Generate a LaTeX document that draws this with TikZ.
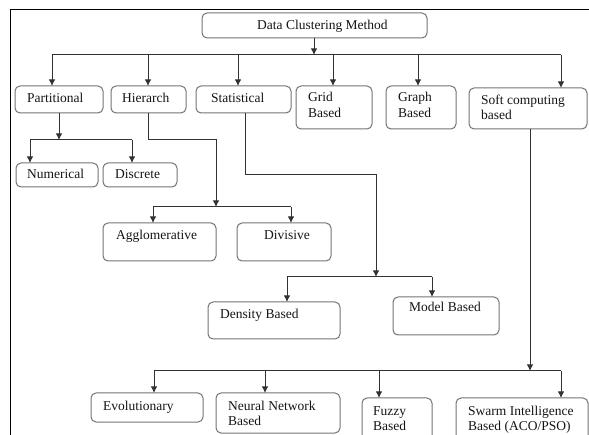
\documentclass[tikz,border=0pt]{standalone}
\usepackage{fontspec}
\setmainfont{Liberation Serif}
\usetikzlibrary{arrows.meta}
\definecolor{boxgray}{RGB}{115,115,115}
\definecolor{linegray}{RGB}{50,50,50}
\definecolor{txtcol}{RGB}{20,20,20}
\newcommand\mybox[5]{\node[boxst, anchor=north west, minimum width={(#4-(#2))*1pt}, minimum height={(#5-(#3))*1pt}] (#1) at (#2,#3) {};}
\newcommand\tline[4]{\node[txt, anchor=base west] (#1) at (#2,#3) {#4};}
\begin{document}
\begin{tikzpicture}[x=1pt,y=-1pt,
  boxst/.style={draw=boxgray, rounded corners=5pt, line width=1pt, inner sep=0pt, outer sep=0pt},
  txt/.style={inner sep=0pt, text=txtcol, font=\fontsize{13.5}{16}\selectfont},
  con/.style={draw=linegray, line width=1pt},
  arr/.style={con, -{Latex[length=6.5pt,width=6.5pt]}}]
\useasboundingbox (0,0) rectangle (589,435);
\clip (0,0) rectangle (589,435);
% frame
\draw[black, line width=1pt] (10,436) -- (10,10) -- (590,10);
% boxes
\mybox{root}{202}{13}{427}{38}
\mybox{part}{15}{86}{103}{113}
\mybox{hier}{111}{86}{186}{113}
\mybox{stat}{196}{86}{291}{113}
\mybox{grid}{296}{86}{372}{129}
\mybox{graph}{386}{86}{456}{129}
\mybox{soft}{469}{88}{587}{129}
\mybox{num}{16}{163}{98}{187}
\mybox{disc}{103}{163}{177}{187}
\mybox{agg}{103}{223}{216}{261}
\mybox{div}{237}{223}{331}{261}
\mybox{dens}{208}{302}{340}{339}
\mybox{model}{393}{297}{499}{335}
\mybox{evo}{91}{393}{203}{422}
\mybox{neur}{216}{393}{340}{433}
\mybox{fuzzy}{362}{398}{432}{445}
\mybox{swarm}{456}{398}{588}{445}
% texts
\tline{troot}{257}{30}{Data Clustering Method}
\tline{tpart}{27}{103}{Partitional}
\tline{thier}{122}{103}{Hierarch}
\tline{tstat}{211}{103}{Statistical}
\tline{tgrida}{308}{102}{Grid}
\tline{tgridb}{308}{118}{Based}
\tline{tgrapha}{398}{102}{Graph}
\tline{tgraphb}{398}{118}{Based}
\tline{tsofta}{481}{105}{Soft computing}
\tline{tsoftb}{481}{120}{based}
\tline{tnum}{27}{179}{Numerical}
\tline{tdisc}{115}{179}{Discrete}
\tline{tagg}{116}{240}{Agglomerative}
\tline{tdiv}{264}{240}{Divisive}
\tline{tdens}{220}{319}{Density Based}
\tline{tmodel}{409}{312}{Model Based}
\tline{tevo}{103}{410}{Evolutionary}
\tline{tneura}{228}{410}{Neural Network}
\tline{tneurb}{228}{425}{Based}
\tline{tfuzzya}{373}{415}{Fuzzy}
\tline{tfuzzyb}{373}{430}{Based}
\tline{tswarma}{468}{415}{Swarm Intelligence}
\tline{tswarmb}{468}{430}{Based (ACO/PSO)}
% junction coordinates
\coordinate (jr) at (314,55);
\coordinate (b1) at (52,55);
\coordinate (b2) at (148,55);
\coordinate (b3) at (238,55);
\coordinate (b4) at (333,55);
\coordinate (b5) at (418,55);
\coordinate (b6) at (561,55);
\coordinate (pj) at (59,140);
\coordinate (pl) at (30,140);
\coordinate (pr) at (132,140);
\coordinate (hx) at (148,140);
\coordinate (hk) at (216,140);
\coordinate (hj) at (216,207);
\coordinate (hl) at (153,207);
\coordinate (hr) at (291,207);
\coordinate (sx) at (245,175);
\coordinate (sk) at (376,175);
\coordinate (sj) at (376,277);
\coordinate (sl) at (287,277);
\coordinate (sr) at (432,277);
\coordinate (cj) at (530,371);
\coordinate (c1) at (154,371);
\coordinate (c2) at (265,371);
\coordinate (c3) at (379,371);
\coordinate (c4) at (561,371);
% root level
\draw[arr] (root.south -| jr) -- (jr);
\draw[con] (b1) -- (b6);
\draw[arr] (b1) -- (part.north -| b1);
\draw[arr] (b2) -- (hier.north -| b2);
\draw[arr] (b3) -- (stat.north -| b3);
\draw[arr] (b4) -- (grid.north -| b4);
\draw[arr] (b5) -- (graph.north -| b5);
\draw[arr] (b6) -- (soft.north -| b6);
% partitional
\draw[arr] (part.south -| pj) -- (pj);
\draw[con] (pl) -- (pr);
\draw[arr] (pl) -- (num.north -| pl);
\draw[arr] (pr) -- (disc.north -| pr);
% hierarch
\draw[arr] (hier.south -| hx) -- (hx) -- (hk) -- (hj);
\draw[con] (hl) -- (hr);
\draw[arr] (hl) -- (agg.north -| hl);
\draw[arr] (hr) -- (div.north -| hr);
% statistical
\draw[arr] (stat.south -| sx) -- (sx) -- (sk) -- (sj);
\draw[con] (sl) -- (sr);
\draw[arr] (sl) -- (dens.north -| sl);
\draw[arr] (sr) -- (model.north -| sr);
% soft computing
\draw[arr] (soft.south -| cj) -- (cj);
\draw[con] (c1) -- (c4);
\draw[arr] (c1) -- (evo.north -| c1);
\draw[arr] (c2) -- (neur.north -| c2);
\draw[arr] (c3) -- (fuzzy.north -| c3);
\draw[arr] (c4) -- (swarm.north -| c4);
\end{tikzpicture}
\end{document}
